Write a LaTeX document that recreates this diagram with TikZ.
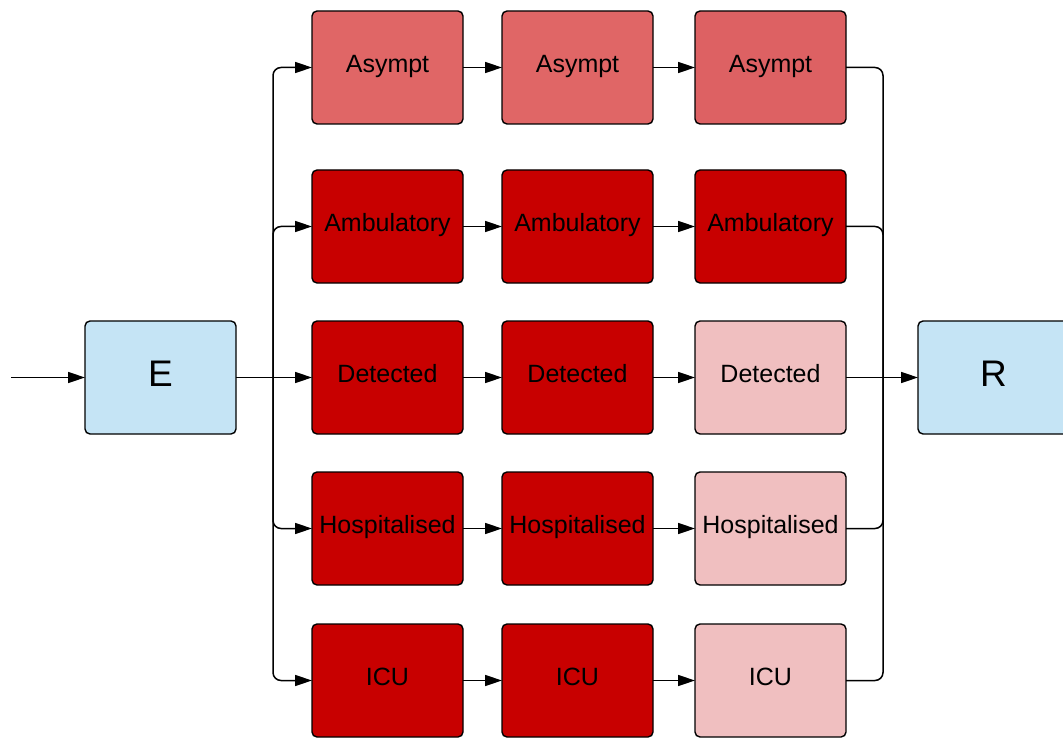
\documentclass[tikz,border=0pt]{standalone}
\usepackage{fontspec}
\setmainfont{Liberation Sans}
\usetikzlibrary{arrows.meta,positioning}

\definecolor{asymptred}{HTML}{E06666}
\definecolor{asymptdark}{HTML}{DD6163}
\definecolor{sickred}{HTML}{C80000}
\definecolor{mildpink}{HTML}{F0BFC0}
\definecolor{stateblue}{HTML}{C5E4F5}

\begin{document}
\begin{tikzpicture}[x=1pt,y=1pt,>={Triangle[length=17pt,width=11pt]},
    state/.style={draw=black,line width=1.4pt,rounded corners=5pt,
      minimum width=151pt,minimum height=113pt,inner sep=0pt,outer sep=0pt,
      text depth=8pt,font=\fontsize{25}{29}\selectfont},
    asy/.style={state,fill=asymptred},
    sick/.style={state,fill=sickred},
    mild/.style={state,fill=mildpink},
    comp/.style={state,fill=stateblue,font=\fontsize{37}{42}\selectfont},
    flow/.style={->,line width=1.5pt},
    branch/.style={->,line width=1.5pt,rounded corners=8pt},
    joinline/.style={line width=1.5pt,rounded corners=8pt}]
      \useasboundingbox (0,0) rectangle (1063,-738);

      \node[comp] (E) at (160.5,-377.5) {E};

      % first column
      \node[sick] (det1) [right=76pt of E] {Detected};
      \node[sick] (amb1) [above=38pt of det1] {Ambulatory};
      \node[asy] (asy1) [above=46pt of amb1] {Asympt};
      \node[sick] (hos1) [below=38pt of det1] {Hospitalised};
      \node[sick] (icu1) [below=39pt of hos1] {ICU};

      % second column
      \node[asy] (asy2) [right=39pt of asy1] {Asympt};
      \node[sick] (amb2) [right=39pt of amb1] {Ambulatory};
      \node[sick] (det2) [right=39pt of det1] {Detected};
      \node[sick] (hos2) [right=39pt of hos1] {Hospitalised};
      \node[sick] (icu2) [right=39pt of icu1] {ICU};

      % third column
      \node[asy,fill=asymptdark] (asy3) [right=42pt of asy2] {Asympt};
      \node[sick] (amb3) [right=42pt of amb2] {Ambulatory};
      \node[mild] (det3) [right=42pt of det2] {Detected};
      \node[mild] (hos3) [right=42pt of hos2] {Hospitalised};
      \node[mild] (icu3) [right=42pt of icu2] {ICU};

      \node[comp] (R) [right=72pt of det3] {R};

      \node[coordinate] (in) [left=74pt of E.west] {};
      \node[coordinate] (split) [right=37pt of E.east] {};
      \node[coordinate] (merge) [left=35pt of R.west] {};

      \draw[flow] (in) -- (E);
      \draw[flow] (E) -- (det1);
      \draw[branch] (split) |- (asy1);
      \draw[branch] (split) |- (amb1);
      \draw[branch] (split) |- (hos1);
      \draw[branch] (split) |- (icu1);

      \path[flow] (asy1) edge (asy2) (asy2) edge (asy3);
      \path[flow] (amb1) edge (amb2) (amb2) edge (amb3);
      \path[flow] (det1) edge (det2) (det2) edge (det3);
      \path[flow] (hos1) edge (hos2) (hos2) edge (hos3);
      \path[flow] (icu1) edge (icu2) (icu2) edge (icu3);

      \draw[joinline] (asy3) -| (merge);
      \draw[joinline] (amb3) -| (merge);
      \draw[joinline] (hos3) -| (merge);
      \draw[joinline] (icu3) -| (merge);
      \draw[flow] (det3) -- (R);
\end{tikzpicture}
\end{document}
